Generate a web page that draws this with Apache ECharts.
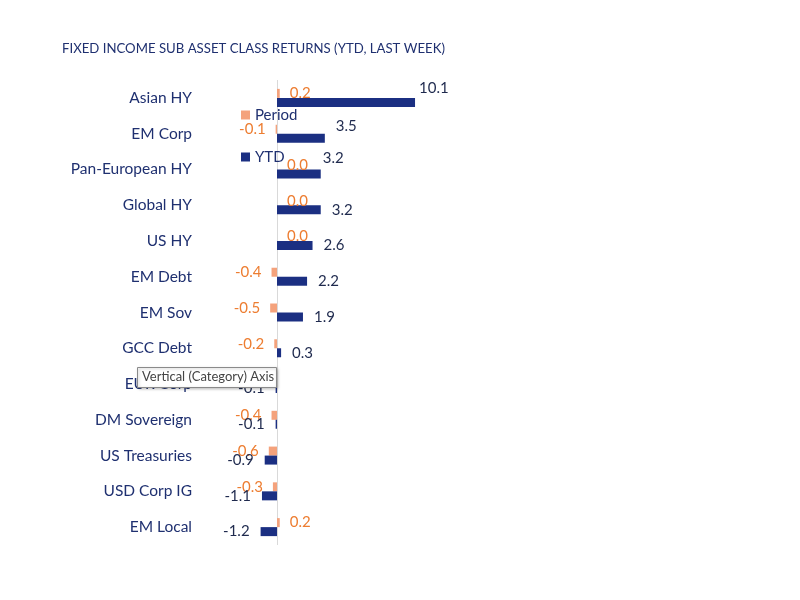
<!DOCTYPE html>
<html>
<head>
<meta charset="utf-8">
<script src="https://cdn.jsdelivr.net/npm/echarts@6/dist/echarts.min.js"></script>
<style>html,body{margin:0;padding:0;background:#fff}#c{width:800px;height:600px}</style>
</head>
<body>
<div id="c"></div>
<script>
const categories = ['Asian HY','EM Corp','Pan-European HY','Global HY','US HY','EM Debt','EM Sov','GCC Debt','EUR Corp','DM Sovereign','US Treasuries','USD Corp IG','EM Local'];
const periodValues = [0.2, -0.1, 0.0, 0.0, 0.0, -0.4, -0.5, -0.2, -0.2, -0.4, -0.6, -0.3, 0.2];
const ytdValues = [10.1, 3.5, 3.2, 3.2, 2.6, 2.2, 1.9, 0.3, -0.1, -0.1, -0.9, -1.1, -1.2];
const titleText = 'FIXED INCOME SUB ASSET CLASS RETURNS (YTD, LAST WEEK)';

const FONT = 'Lato';
const NAVY = '#1F3070';
const ytdNudge = {'Asian HY': [-7, -14], 'EM Corp': [0, -12], 'Pan-European HY': [-9, -16]};

function build(values, nudge) {
  return values.map((v, i) => ({
    value: v,
    label: {
      position: v < 0 ? 'left' : 'right',
      offset: (nudge && nudge[categories[i]]) || [0, 0]
    }
  }));
}

const chart = echarts.init(document.getElementById('c'));
chart.setOption({
  animation: false,
  textStyle: {fontFamily: FONT},
  title: {
    text: titleText, left: 57, top: 37,
    textStyle: {fontFamily: FONT, fontSize: 13.2, fontWeight: 'normal', color: NAVY}
  },
  legend: {
    orient: 'vertical', left: 236, top: 102, itemWidth: 9, itemHeight: 9, itemGap: 26,
    icon: 'rect',
    textStyle: {fontFamily: FONT, fontSize: 15, color: NAVY, lineHeight: 16},
    data: ['Period', 'YTD']
  },
  grid: {left: 195, right: 359, top: 80, bottom: 55},
  xAxis: {type: 'value', min: -6, max: 12, show: false},
  yAxis: {
    type: 'category', data: categories, inverse: true,
    axisLine: {show: false, onZero: false}, axisTick: {show: false},
    axisLabel: {margin: 3, fontFamily: FONT, fontSize: 15.5, color: NAVY}
  },
  series: [
    {
      name: 'Period', type: 'bar', barWidth: 9, barGap: '0%',
      itemStyle: {color: '#F4A27C'},
      label: {show: true, distance: 10, fontFamily: FONT, fontSize: 15, color: '#ED7D31',
        padding: [3, 0, 0, 0], formatter: p => p.value.toFixed(1)},
      data: build(periodValues, null)
    },
    {
      name: 'YTD', type: 'bar', barWidth: 9, barGap: '0%',
      itemStyle: {color: '#1B2F82'},
      label: {show: true, distance: 11, fontFamily: FONT, fontSize: 15, color: '#1F2A4E',
        formatter: p => p.value.toFixed(1)},
      data: build(ytdValues, ytdNudge),
      markLine: {
        silent: true, symbol: ['none', 'none'], label: {show: false},
        lineStyle: {color: '#D9D9D9', width: 1, type: 'solid'},
        data: [{xAxis: 0}], z: 0
      }
    }
  ],
  graphic: [
    {
      type: 'rect', z: 100, shape: {x: 137.5, y: 367.5, width: 139, height: 20},
      style: {fill: '#fff', stroke: '#8a8a8a', lineWidth: 1, shadowBlur: 3, shadowColor: 'rgba(0,0,0,0.25)', shadowOffsetX: 1, shadowOffsetY: 1}
    },
    {
      type: 'text', z: 101, left: 142, top: 370,
      style: {text: 'Vertical (Category) Axis', fontFamily: FONT, fontSize: 13, fill: '#444'}
    }
  ]
});
</script>
</body>
</html>
